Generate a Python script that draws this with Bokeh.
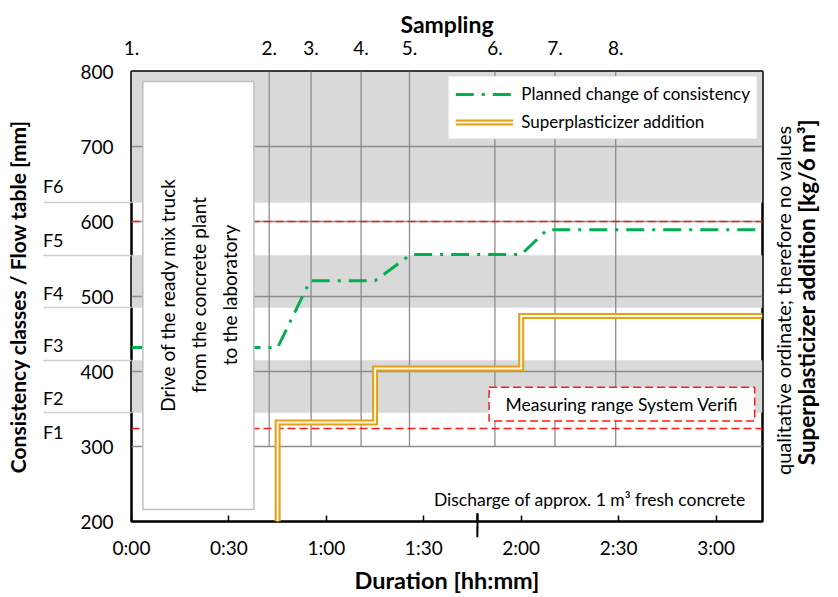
import math
from bokeh.plotting import figure
from bokeh.models import (Range1d, LinearAxis, FixedTicker, Arrow, NormalHead,
                          Legend, LegendItem)
from bokeh.core.properties import value
from bokeh.embed import file_html
from bokeh.resources import INLINE

FONT = "Lato"

# ---------------- data ----------------
x_end = 194.3
sampling_labels = ["1.", "2.", "3.", "4.", "5.", "6.", "7.", "8."]
sampling_times = [0, 42.4, 55.3, 70.7, 85.6, 111.9, 130.4, 149.1]
duration_ticks = [0, 30, 60, 90, 120, 150, 180]
duration_labels = ["0:00", "0:30", "1:00", "1:30", "2:00", "2:30", "3:00"]
flow_ticks = [200, 300, 400, 500, 600, 700, 800]
grid_levels = [300, 400, 500, 600, 700]
class_names = ["F1", "F2", "F3", "F4", "F5", "F6"]
class_bounds = [345, 415, 485, 555, 625]
class_label_y = [319, 365, 435, 505, 576, 647]
grey_band_bottom = [345, 485, 625]
grey_band_top = [415, 555, 800]
verifi_range = [324, 600]
planned_t = [0, 45, 55, 75, 86, 120, 128, 194.3]
planned_flow = [432, 432, 521, 521, 556, 556, 589, 589]
sp_t = [45, 45, 75, 75, 120, 120, 194.3]
sp_level = [200, 332, 332, 404, 404, 474, 474]
discharge_time = 106.5
right_note = "qualitative ordinate; therefore no values"
right_title = "Superplasticizer addition [kg/6 m³]"
right_note_start = 262
right_title_start = 275

# ---------------- figure ----------------
W, H = 838, 597
p = figure(width=W, height=H, x_range=Range1d(0, x_end), y_range=Range1d(200, 800),
           output_backend="svg", toolbar_location=None,
           min_border_left=131, min_border_right=76, min_border_top=71, min_border_bottom=76)
p.grid.visible = False
p.background_fill_color = "white"
p.border_fill_color = "white"
p.outline_line_color = "black"
p.outline_line_width = 2.5

# consistency class bands
p.quad(left=0, right=x_end, bottom=grey_band_bottom, top=grey_band_top,
       fill_color="#d9d9d9", line_color=None)
# horizontal grid
p.segment(x0=0, x1=x_end, y0=grid_levels, y1=grid_levels, line_color="#8c8c8c", line_width=1.3)
# sampling vertical lines
p.segment(x0=sampling_times[1:], x1=sampling_times[1:], y0=300, y1=800,
          line_color="#8c8c8c", line_width=1.3)
# measuring range limits
p.segment(x0=0, x1=x_end, y0=verifi_range, y1=verifi_range, line_color="#ff1a1a",
          line_width=1.5, line_dash="8 4")

g = p.line(planned_t, planned_flow, line_color="#00b050", line_width=3, line_dash="18 8 3 8")
o1 = p.line(sp_t, sp_level, line_color="#e3a21a", line_width=6, line_join="miter")
o2 = p.line(sp_t, sp_level, line_color="#fff6dc", line_width=2, line_join="miter")

# drive box
p.quad(left=3.5, right=37.7, bottom=216, top=786.7, fill_color="white",
       line_color="#bfbfbf", line_width=1.5)
p.text(x=[20.6], y=[502],
       text=["Drive of the ready mix truck\nfrom the concrete plant\nto the laboratory"],
       angle=math.pi / 2, text_align="center", text_baseline="middle",
       text_font=value(FONT), text_font_size="19px", text_line_height=1.35, text_color="black")

# measuring range box
p.quad(left=110.1, right=191.9, bottom=334, top=379, fill_color="white",
       line_color="#ff1a1a", line_width=1.5, line_dash="8 4")
p.text(x=[151], y=[356.5], text=["Measuring range System Verifi"], text_align="center",
       text_baseline="middle", text_font=value(FONT), text_font_size="17.5px", text_color="black")

p.text(x=[141.1], y=[229.5], text=["Discharge of approx. 1 m³ fresh concrete"],
       text_align="center", text_baseline="middle", text_font=value(FONT),
       text_font_size="17.5px", text_color="black")

p.add_layout(Arrow(end=NormalHead(size=10, fill_color="black", line_color="black"),
                   x_start=discharge_time, y_start=211, x_end=discharge_time, y_end=179,
                   line_width=2, line_color="black"))

# legend
legend = Legend(items=[LegendItem(label="Planned change of consistency", renderers=[g]),
                       LegendItem(label="Superplasticizer addition", renderers=[o1, o2])],
                location="top_right", label_text_font=FONT, label_text_font_size="17px",
                label_text_color="black", glyph_width=58, glyph_height=20, label_height=20,
                label_standoff=8, padding=6, spacing=7, margin=5,
                border_line_color="#d9d9d9", border_line_width=1.5,
                background_fill_color="white", background_fill_alpha=1.0)
p.add_layout(legend)

# bottom axis (the discharge arrow's stem crosses the frame as a minor tick)
ax = p.xaxis[0]
ax.ticker = FixedTicker(ticks=duration_ticks, minor_ticks=[discharge_time])
ax.major_label_overrides = dict(zip(duration_ticks, duration_labels))
ax.major_tick_in = 6
ax.major_tick_out = 0
ax.major_tick_line_color = "black"
ax.major_tick_line_width = 1.5
ax.minor_tick_in = 8
ax.minor_tick_out = 7
ax.minor_tick_line_color = "black"
ax.minor_tick_line_width = 2
ax.axis_line_color = None
ax.major_label_text_font = FONT
ax.major_label_text_font_size = "19px"
ax.major_label_text_color = "black"
ax.major_label_standoff = 7
ax.axis_label = "Duration [hh:mm]"
ax.axis_label_text_font = FONT
ax.axis_label_text_font_style = "bold"
ax.axis_label_text_font_size = "23.5px"
ax.axis_label_text_color = "black"
ax.axis_label_standoff = 4

# left axis: flow values, with consistency-class separators as long minor ticks
ay = p.yaxis[0]
ay.ticker = FixedTicker(ticks=flow_ticks, minor_ticks=class_bounds)
ay.major_tick_in = 0
ay.major_tick_out = 0
ay.minor_tick_in = 0
ay.minor_tick_out = 88
ay.minor_tick_line_color = "#d0d0d0"
ay.minor_tick_line_width = 1.5
ay.axis_line_color = None
ay.major_label_text_font = FONT
ay.major_label_text_font_size = "19px"
ay.major_label_text_color = "black"
ay.major_label_standoff = -70

# outer left axis: consistency classes + axis title
ac = LinearAxis(ticker=FixedTicker(ticks=class_label_y),
                major_label_overrides=dict(zip(class_label_y, class_names)))
ac.major_tick_in = 0
ac.major_tick_out = 0
ac.minor_tick_line_color = None
ac.axis_line_color = None
ac.major_label_text_font = FONT
ac.major_label_text_font_size = "18px"
ac.major_label_text_color = "black"
ac.major_label_standoff = 14
ac.axis_label = "Consistency classes / Flow table [mm]"
ac.axis_label_text_font = FONT
ac.axis_label_text_font_style = "bold"
ac.axis_label_text_font_size = "21px"
ac.axis_label_text_color = "black"
ac.axis_label_standoff = 10
p.add_layout(ac, "left")

# top axis (sampling)
at = LinearAxis(ticker=FixedTicker(ticks=sampling_times),
                major_label_overrides=dict(zip(sampling_times, sampling_labels)))
at.major_tick_in = 0
at.major_tick_out = 0
at.minor_tick_line_color = None
at.axis_line_color = None
at.major_label_text_font = FONT
at.major_label_text_font_size = "19px"
at.major_label_text_color = "black"
at.major_label_standoff = 17
at.axis_label = "Sampling"
at.axis_label_text_font = FONT
at.axis_label_text_font_style = "bold"
at.axis_label_text_font_size = "23px"
at.axis_label_text_color = "black"
at.axis_label_standoff = 0
p.add_layout(at, "above")


# right side: qualitative ordinate (no values) - text carried by rotated tick labels
def note_axis(start, text, size, style, standoff):
    a = LinearAxis(ticker=FixedTicker(ticks=[start]), major_label_overrides={start: text})
    a.major_tick_in = 0
    a.major_tick_out = 0
    a.minor_tick_line_color = None
    a.major_tick_line_color = None
    a.axis_line_color = None
    a.major_label_text_font = FONT
    a.major_label_text_font_size = size
    a.major_label_text_font_style = style
    a.major_label_text_color = "black"
    a.major_label_orientation = math.pi / 2
    a.major_label_standoff = standoff
    return a


p.add_layout(note_axis(right_note_start, right_note, "20px", "normal", 20), "right")
p.add_layout(note_axis(right_title_start, right_title, "22.5px", "bold", -3), "right")

open("out.html", "w").write(file_html(p, INLINE))
